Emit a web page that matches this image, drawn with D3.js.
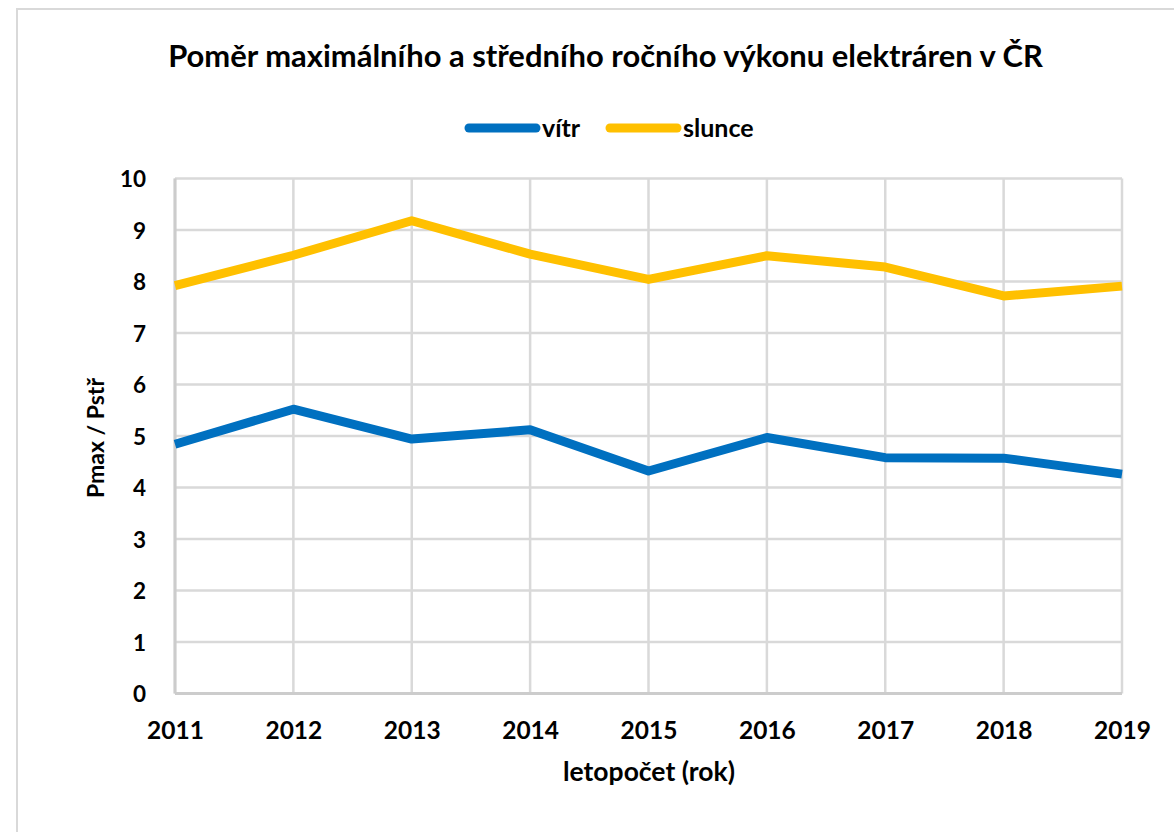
<!DOCTYPE html>
<html>
<head>
<meta charset="utf-8">
<script src="https://cdn.jsdelivr.net/npm/d3@7"></script>
<style>
  body { margin: 0; background: #fff; }
  text { font-family: Lato, "Open Sans", sans-serif; font-weight: bold; fill: #000; }
</style>
</head>
<body>
<script>
// data
var years = [2011, 2012, 2013, 2014, 2015, 2016, 2017, 2018, 2019];
var vitr = [4.84, 5.52, 4.94, 5.12, 4.32, 4.97, 4.58, 4.57, 4.26];
var slunce = [7.92, 8.51, 9.18, 8.53, 8.04, 8.50, 8.28, 7.72, 7.91];
var yTicks = [0, 1, 2, 3, 4, 5, 6, 7, 8, 9, 10];

var seriesNames = ["vítr", "slunce"];
var seriesColors = ["#0070C0", "#FFC000"];

var W = 1174, H = 832;
var margin = {top: 178.5, right: 52, bottom: 138.5, left: 175},
    width = W - margin.left - margin.right,
    height = H - margin.top - margin.bottom;

var svg = d3.select("body").append("svg")
    .attr("width", W)
    .attr("height", H);

// chart area border
svg.append("rect")
    .attr("x", 17).attr("y", 9)
    .attr("width", W + 20).attr("height", H + 20)
    .attr("fill", "#fff")
    .attr("stroke", "#d9d9d9")
    .attr("stroke-width", 2);

var g = svg.append("g")
    .attr("transform", "translate(" + margin.left + "," + margin.top + ")");

var x = d3.scalePoint()
    .domain(years)
    .range([0, width]);
var y = d3.scaleLinear()
    .domain([0, 10])
    .range([height, 0]);

// make a text fit a given width by changing its font size
function fitText(sel, targetWidth, size) {
  sel.style("font-size", size + "px");
  var w = sel.node().getComputedTextLength();
  sel.style("font-size", (size * targetWidth / w).toFixed(2) + "px");
}

// gridlines
g.append("g")
    .selectAll("line.h")
    .data(yTicks)
    .enter().append("line")
    .attr("x1", 0).attr("x2", width)
    .attr("y1", function(d) { return y(d); })
    .attr("y2", function(d) { return y(d); })
    .attr("stroke", "#d9d9d9")
    .attr("stroke-width", 2.5);

g.append("g")
    .selectAll("line.v")
    .data(years)
    .enter().append("line")
    .attr("x1", function(d) { return x(d); })
    .attr("x2", function(d) { return x(d); })
    .attr("y1", 0).attr("y2", height)
    .attr("stroke", "#d9d9d9")
    .attr("stroke-width", 2.5);

// axes lines
g.append("line")
    .attr("x1", 0).attr("x2", width)
    .attr("y1", height).attr("y2", height)
    .attr("stroke", "#cccccc").attr("stroke-width", 3);
g.append("line")
    .attr("x1", 0).attr("x2", 0)
    .attr("y1", 0).attr("y2", height)
    .attr("stroke", "#cccccc").attr("stroke-width", 3);

// Add the x-axis labels
var xAxis = g.append("g")
    .attr("transform", "translate(0," + height + ")")
    .call(d3.axisBottom(x).tickSize(0).tickPadding(0).tickFormat(d3.format("d")));
xAxis.select(".domain").remove();
xAxis.selectAll("text")
    .attr("y", 45)
    .attr("dy", null)
    .style("font-size", "24.5px")
    .style("font-family", "Lato, sans-serif")
    .style("font-weight", "bold");

// Add the y-axis labels
var yAxis = g.append("g")
    .call(d3.axisLeft(y).tickValues(yTicks).tickSize(0).tickPadding(29));
yAxis.select(".domain").remove();
yAxis.selectAll("text")
    .attr("dy", "0.36em")
    .style("font-size", "22.5px")
    .style("font-family", "Lato, sans-serif")
    .style("font-weight", "bold");

// lines
var line = d3.line()
    .x(function(d, i) { return x(years[i]); })
    .y(function(d) { return y(d); });

[vitr, slunce].forEach(function(vals, i) {
  g.append("path")
      .datum(vals)
      .attr("fill", "none")
      .attr("stroke", seriesColors[i])
      .attr("stroke-width", 9)
      .attr("stroke-linejoin", "round")
      .attr("d", line);
});

// title
var title = svg.append("text")
    .attr("x", 605.5).attr("y", 67)
    .attr("text-anchor", "middle")
    .text("Poměr maximálního a středního ročního výkonu elektráren v ČR");
fitText(title, 875, 24);

// legend
var legendX = [465, 606];
var legend = svg.selectAll(".legend")
    .data(seriesNames)
    .enter().append("g")
    .attr("class", "legend")
    .attr("transform", function(d, i) { return "translate(" + legendX[i] + ",128)"; });
legend.append("line")
    .attr("x1", 4).attr("x2", 71)
    .attr("y1", 0).attr("y2", 0)
    .attr("stroke", function(d, i) { return seriesColors[i]; })
    .attr("stroke-width", 9)
    .attr("stroke-linecap", "round");
legend.append("text")
    .attr("x", 77).attr("y", 9)
    .style("font-size", "25px")
    .text(function(d) { return d; });

// axis titles
var xTitle = svg.append("text")
    .attr("x", 649).attr("y", 781)
    .attr("text-anchor", "middle")
    .text("letopočet (rok)");
fitText(xTitle, 172, 21);

var yTitle = svg.append("text")
    .attr("transform", "translate(104,438) rotate(-90)")
    .attr("text-anchor", "middle")
    .text("Pmax / Pstř");
fitText(yTitle, 120, 21);
</script>
</body>
</html>
